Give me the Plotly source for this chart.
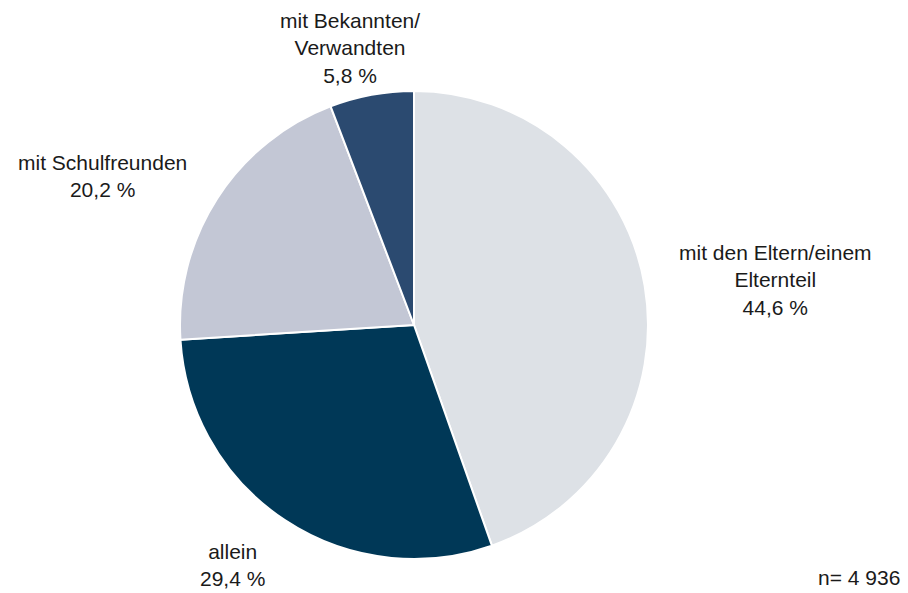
import plotly.graph_objects as go

categories = ["mit den Eltern/einem Elternteil", "allein", "mit Schulfreunden", "mit Bekannten/ Verwandten"]
label_lines = ["mit den Eltern/einem<br>Elternteil", "allein", "mit Schulfreunden", "mit Bekannten/<br>Verwandten"]
values = [44.6, 29.4, 20.2, 5.8]
colors = ["#dde1e6", "#003857", "#c3c7d5", "#2b4a70"]
sample_note = "n= 4 936"

W, H = 908, 593
cx, cy, r = 414, 325, 234

fig = go.Figure(go.Pie(
    labels=categories,
    values=values,
    sort=False,
    direction="clockwise",
    rotation=0,
    textinfo="none",
    hoverinfo="label+percent",
    marker=dict(colors=colors, line=dict(color="white", width=2)),
    domain=dict(x=[(cx - r) / W, (cx + r) / W], y=[(H - cy - r) / H, (H - cy + r) / H]),
    showlegend=False,
))

# label anchor positions in pixels (layout only)
label_pos = [(775, 280), (232, 565), (102, 176), (350, 48)]
font = dict(family="Liberation Sans, Arial, sans-serif", size=21, color="#1a1a1a")
for lab, val, (px, py) in zip(label_lines, values, label_pos):
    txt = f"{lab}<br>{str(val).replace('.', ',')} %"
    fig.add_annotation(x=px / W, y=1 - py / H, xref="paper", yref="paper",
                       text=txt, showarrow=False, align="center",
                       xanchor="center", yanchor="middle", font=font)

fig.add_annotation(x=902 / W, y=1 - 577 / H, xref="paper", yref="paper",
                   text=sample_note, showarrow=False, xanchor="right", yanchor="middle", font=font)

fig.update_layout(width=W, height=H, margin=dict(l=0, r=0, t=0, b=0),
                  paper_bgcolor="white", plot_bgcolor="white")
fig.write_html("out.html", config={"displayModeBar": False},
               post_script="document.body.style.margin='0';document.body.style.padding='0';")
